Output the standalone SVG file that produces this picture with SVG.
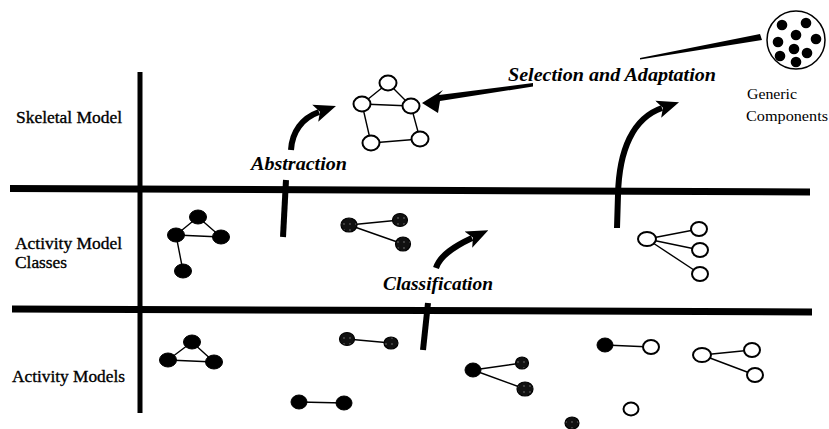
<svg xmlns="http://www.w3.org/2000/svg" width="829" height="429" viewBox="0 0 829 429">
<style>
.lbl{font-family:"Liberation Serif","Times New Roman",serif;font-size:17px;fill:#000;stroke:#000;stroke-width:0.35}
.it{font-family:"Liberation Serif","Times New Roman",serif;font-style:italic;font-weight:bold;font-size:19px;fill:#000}
.gen{font-family:"Liberation Serif","Times New Roman",serif;font-size:15.5px;fill:#000}
.band{stroke:#000;stroke-width:7;fill:none}
.edge{stroke:#000;stroke-width:1.4;fill:none}
.open{fill:#fff;stroke:#000;stroke-width:2}
.blk{fill:#000;stroke:#000;stroke-width:1}
.hat{fill:url(#sp);stroke:#000;stroke-width:1.2}
.arr{stroke:#000;stroke-width:6;fill:none}
</style>
<defs>
<pattern id="sp" width="6" height="6" patternUnits="userSpaceOnUse">
<rect width="6" height="6" fill="#111"/>
<circle cx="2" cy="2" r="0.7" fill="#8a8a8a"/>
</pattern>
<marker id="ah" markerUnits="userSpaceOnUse" markerWidth="22" markerHeight="20" viewBox="0 0 22 20" refX="4" refY="10" orient="auto">
<path d="M0,1 L22,10 L0,19 L5,10 Z" fill="#000"/>
</marker>
</defs>
<rect width="829" height="429" fill="#fff"/>

<g id="frame">
<line class="band" x1="10" y1="188.5" x2="810" y2="192"/>
<line class="band" x1="12" y1="309" x2="812" y2="312"/>
<line x1="140" y1="72" x2="140" y2="413" stroke="#000" stroke-width="5"/>
</g>

<g id="row-labels">
<text class="lbl" x="16" y="123" textLength="106" lengthAdjust="spacingAndGlyphs">Skeletal Model</text>
<text class="lbl" x="15" y="249" textLength="107" lengthAdjust="spacingAndGlyphs">Activity Model</text>
<text class="lbl" x="15" y="268" textLength="52" lengthAdjust="spacingAndGlyphs">Classes</text>
<text class="lbl" x="12" y="382" textLength="113" lengthAdjust="spacingAndGlyphs">Activity Models</text>
</g>

<g id="connectors">
<polygon points="422,103 443,90 439,95 533,83 533,86.5 440,101 438,113" fill="#000"/>
<polygon points="640,58 760,34 762,40 640,59.5" fill="#000"/>
<path class="arr" d="M291,150 C292,132 302,118 319,112" marker-end="url(#ah)"/>
<line class="arr" x1="286" y1="180" x2="283" y2="237"/>
<path class="arr" d="M436,268 C440,255 455,246 472,238" marker-end="url(#ah)"/>
<line class="arr" x1="428" y1="303" x2="423" y2="350"/>
<path class="arr" d="M617,228 L618,195 C619,150 633,118 662,108" marker-end="url(#ah)"/>
</g>

<g id="arrow-labels">
<text class="it" x="508" y="81" textLength="208" lengthAdjust="spacingAndGlyphs">Selection and Adaptation</text>
<text class="it" x="251" y="170" textLength="96" lengthAdjust="spacingAndGlyphs">Abstraction</text>
<text class="it" x="383" y="290" textLength="110" lengthAdjust="spacingAndGlyphs">Classification</text>
</g>

<g id="generic-components">
<circle cx="796" cy="40" r="29" fill="#fff" stroke="#000" stroke-width="1.5"/>
<g fill="#000">
<circle cx="782" cy="25" r="5.3"/>
<circle cx="806" cy="23" r="5.3"/>
<circle cx="796" cy="35" r="5.3"/>
<circle cx="778" cy="42" r="5.3"/>
<circle cx="816" cy="39" r="5.3"/>
<circle cx="794" cy="49" r="5.3"/>
<circle cx="780" cy="56" r="5.3"/>
<circle cx="807" cy="53" r="5.3"/>
<circle cx="796" cy="62" r="5.3"/>
</g>
<text class="gen" x="747" y="99" textLength="50" lengthAdjust="spacingAndGlyphs">Generic</text>
<text class="gen" x="746" y="121" textLength="82" lengthAdjust="spacingAndGlyphs">Components</text>
</g>

<g id="skeletal-model">
<path class="edge" d="M388,83 L362,104 M388,83 L411,106 M362,104 L411,106 M362,104 L371,143 M411,106 L420,139 M371,143 L420,139"/>
<ellipse class="open" cx="388" cy="83" rx="8.5" ry="7.5"/>
<ellipse class="open" cx="362" cy="104" rx="8.5" ry="7.5"/>
<ellipse class="open" cx="411" cy="106" rx="8.5" ry="7.5"/>
<ellipse class="open" cx="371" cy="143" rx="8.5" ry="7.5"/>
<ellipse class="open" cx="420" cy="139" rx="8.5" ry="7.5"/>
</g>

<g id="class-black">
<path class="edge" d="M198,217 L176,235 M198,217 L221,237 M176,235 L221,237 M176,235 L183,271"/>
<ellipse class="blk" cx="198" cy="217" rx="8.5" ry="7"/>
<ellipse class="blk" cx="176" cy="235" rx="8.5" ry="7"/>
<ellipse class="blk" cx="221" cy="237" rx="8.5" ry="7"/>
<ellipse class="blk" cx="183" cy="271" rx="8.5" ry="7"/>
</g>

<g id="class-hatched">
<path class="edge" d="M349,225 L400,220 M349,225 L403,244"/>
<ellipse class="hat" cx="349" cy="225" rx="8" ry="7"/>
<ellipse class="hat" cx="400" cy="220" rx="7.5" ry="6.5"/>
<ellipse class="hat" cx="403" cy="244" rx="7.5" ry="7"/>
</g>

<g id="class-open">
<path class="edge" d="M647,239 L699,229 M647,239 L700,250 M647,239 L700,274"/>
<ellipse class="open" cx="647" cy="239" rx="9" ry="7"/>
<ellipse class="open" cx="699" cy="229" rx="8" ry="7"/>
<ellipse class="open" cx="700" cy="250" rx="8" ry="7"/>
<ellipse class="open" cx="700" cy="274" rx="8" ry="7"/>
</g>

<g id="am-triangle">
<path class="edge" d="M192,342 L168,360 M192,342 L214,362 M168,360 L214,362"/>
<ellipse class="blk" cx="192" cy="342" rx="8.5" ry="7"/>
<ellipse class="blk" cx="168" cy="360" rx="8.5" ry="7"/>
<ellipse class="blk" cx="214" cy="362" rx="8.5" ry="7"/>
</g>

<g id="am-hatched-pair">
<path class="edge" d="M347,339 L391,343"/>
<ellipse class="hat" cx="347" cy="339" rx="7.5" ry="6.5"/>
<ellipse class="hat" cx="391" cy="343" rx="7" ry="6"/>
</g>

<g id="am-black-pair">
<path class="edge" d="M299,402 L344,403"/>
<ellipse class="blk" cx="299" cy="402" rx="8" ry="7"/>
<ellipse class="blk" cx="344" cy="403" rx="8" ry="7"/>
</g>

<g id="am-hatched-tree">
<path class="edge" d="M473,370 L522,363 M473,370 L525,389"/>
<ellipse class="blk" cx="473" cy="370" rx="8" ry="7"/>
<ellipse class="hat" cx="522" cy="363" rx="6.5" ry="6"/>
<ellipse class="hat" cx="525" cy="389" rx="8" ry="7"/>
</g>

<g id="am-mixed-pair">
<path class="edge" d="M605,345 L651,347"/>
<ellipse class="blk" cx="605" cy="345" rx="8" ry="7"/>
<ellipse class="open" cx="651" cy="347" rx="8" ry="7"/>
</g>

<g id="am-open-tree">
<path class="edge" d="M702,355 L752,350 M702,355 L755,375"/>
<ellipse class="open" cx="702" cy="355" rx="9" ry="7"/>
<ellipse class="open" cx="752" cy="350" rx="8" ry="7"/>
<ellipse class="open" cx="755" cy="375" rx="8" ry="7"/>
</g>

<g id="am-open-single">
<ellipse class="open" cx="631" cy="409" rx="7.5" ry="6.5"/>
</g>

<g id="am-black-single">
<ellipse class="hat" cx="572" cy="423" rx="7" ry="6"/>
</g>
</svg>
